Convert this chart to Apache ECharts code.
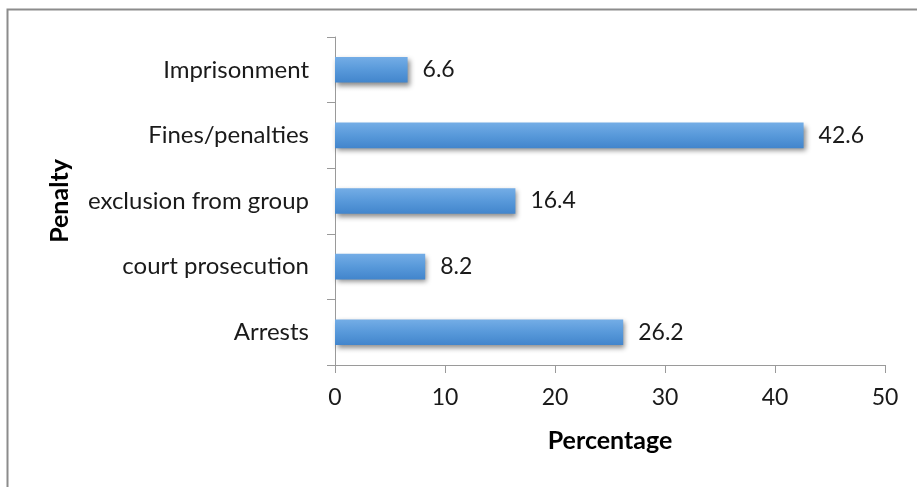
<!DOCTYPE html>
<html>
<head>
<meta charset="utf-8">
<script src="https://cdn.jsdelivr.net/npm/echarts@6/dist/echarts.min.js"></script>
<style>
  html, body { margin: 0; padding: 0; background: #fff; }
  #chart { width: 917px; height: 487px; }
</style>
</head>
<body>
<div id="chart"></div>
<script>
// Penalty categories, listed bottom to top
const categories = ['Arrests', 'court prosecution', 'exclusion from group', 'Fines/penalties', 'Imprisonment'];
// Share of respondents for each penalty (%)
const percentages = [26.2, 8.2, 16.4, 42.6, 6.6];
const xTicks = [0, 10, 20, 30, 40, 50];

const FONT = 'Lato, "Open Sans", sans-serif';
const chart = echarts.init(document.getElementById('chart'), null, { renderer: 'canvas' });

chart.setOption({
  animation: false,
  backgroundColor: '#ffffff',
  graphic: [{
    type: 'rect',
    shape: { x: 7.5, y: 9.5, width: 930, height: 500 },
    style: { fill: 'none', stroke: '#8c8c8c', lineWidth: 2 },
    silent: true
  }],
  grid: { left: 335, top: 37, right: 32, bottom: 122, containLabel: false },
  xAxis: {
    type: 'value',
    min: xTicks[0],
    max: xTicks[xTicks.length - 1],
    interval: 10,
    name: 'Percentage',
    nameLocation: 'middle',
    nameGap: 63,
    nameTextStyle: { fontFamily: FONT, fontWeight: 'bold', fontSize: 25, color: '#000' },
    axisLine: { show: true, lineStyle: { color: '#9a9a9a', width: 1 } },
    axisTick: { show: true, length: 8, lineStyle: { color: '#9a9a9a' } },
    axisLabel: { fontFamily: FONT, fontSize: 23, color: '#1a1a1a', margin: 21 },
    splitLine: { show: false }
  },
  yAxis: {
    type: 'category',
    data: categories,
    name: 'Penalty',
    nameLocation: 'middle',
    nameGap: 263,
    nameRotate: 90,
    nameTextStyle: { fontFamily: FONT, fontWeight: 'bold', fontSize: 25, color: '#000' },
    axisLine: { show: true, lineStyle: { color: '#9a9a9a', width: 1 } },
    axisTick: { show: true, length: 8, alignWithLabel: false, lineStyle: { color: '#9a9a9a' } },
    axisLabel: { fontFamily: FONT, fontSize: 24, color: '#1a1a1a', margin: 26 }
  },
  series: [{
    type: 'bar',
    data: percentages,
    barWidth: '39%',
    itemStyle: {
      color: new echarts.graphic.LinearGradient(0, 0, 0, 1, [
        { offset: 0, color: '#74ade6' },
        { offset: 0.5, color: '#5899da' },
        { offset: 1, color: '#4285cc' }
      ]),
      shadowColor: 'rgba(0,0,0,0.45)',
      shadowBlur: 5,
      shadowOffsetX: 2,
      shadowOffsetY: 3
    },
    label: {
      show: true,
      position: 'right',
      distance: 15,
      fontFamily: FONT,
      fontSize: 23,
      color: '#1a1a1a',
      formatter: p => p.value.toFixed(1)
    }
  }]
});
</script>
</body>
</html>
